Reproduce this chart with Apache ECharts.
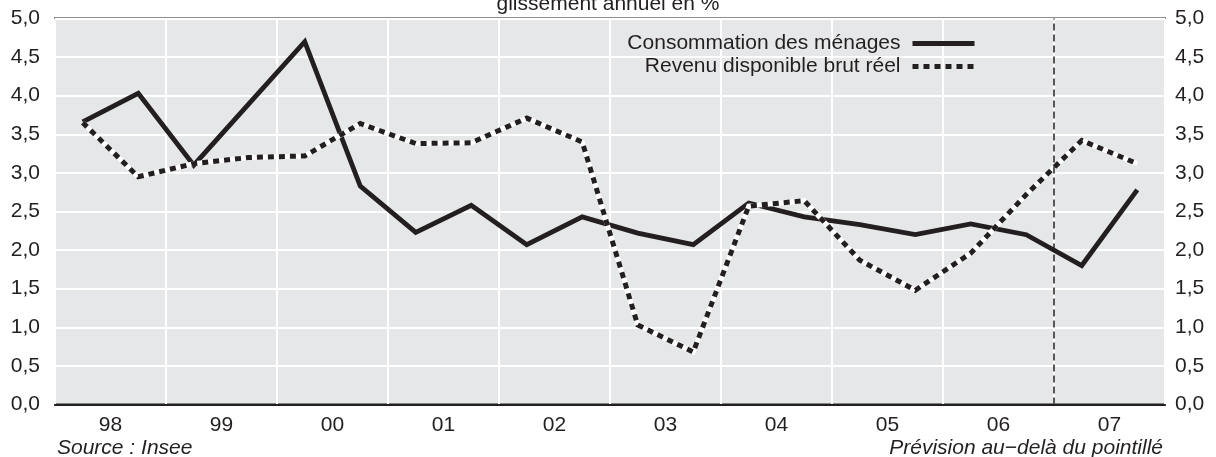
<!DOCTYPE html>
<html>
<head>
<meta charset="utf-8">
<script src="https://cdn.jsdelivr.net/npm/echarts@6/dist/echarts.min.js"></script>
<style>
  html, body { margin: 0; padding: 0; background: #fff; }
  #chart { width: 1216px; height: 457px; }
</style>
</head>
<body>
<div id="chart"></div>
<script>
// semestres 1998-2007, glissement annuel en %
var halfYears = ['98S1', '98S2', '99S1', '99S2', '00S1', '00S2', '01S1', '01S2', '02S1', '02S2',
                 '03S1', '03S2', '04S1', '04S2', '05S1', '05S2', '06S1', '06S2', '07S1', '07S2'];
var years = ['98', '99', '00', '01', '02', '03', '04', '05', '06', '07'];
var consommation = [3.66, 4.03, 3.10, 3.90, 4.70, 2.83, 2.23, 2.58, 2.07, 2.43,
                    2.22, 2.07, 2.61, 2.43, 2.33, 2.20, 2.34, 2.20, 1.80, 2.78];
var revenu = [3.65, 2.95, 3.12, 3.20, 3.22, 3.64, 3.38, 3.39, 3.71, 3.40,
              1.03, 0.68, 2.57, 2.64, 1.87, 1.48, 1.96, 2.72, 3.42, 3.12];
var forecastStart = 2007;   // prévision au-delà du pointillé

var ink = '#231f20';
var font = 'Liberation Sans, Arial, sans-serif';
var fs = 21;
var fmt = function (v) { return v.toFixed(1).replace('.', ','); };

var chart = echarts.init(document.getElementById('chart'));
var legendText = { fontSize: fs, color: ink, fontFamily: font, padding: [0, 7, 0, 0] };
var option = {
    backgroundColor: '#fff',
    animation: false,
    textStyle: { fontFamily: font, color: ink },
    grid: {
        left: 55, right: 51, top: 18.5, bottom: 52.5,
        show: true,
        backgroundColor: '#e6e7e8',
        borderColor: ink,
        borderWidth: 2
    },
    legend: [
        {
            data: ['Consommation des ménages'],
            right: 234, top: 28,
            align: 'right',
            itemWidth: 62, itemHeight: 14,
            itemStyle: { opacity: 0 },
            lineStyle: { width: 5 },
            textStyle: legendText
        },
        {
            data: ['Revenu disponible brut réel'],
            right: 234, top: 51,
            align: 'right',
            itemWidth: 62, itemHeight: 14,
            itemStyle: { opacity: 0 },
            lineStyle: { width: 5, type: [6, 5] },
            textStyle: legendText
        }
    ],
    xAxis: [
        {
            type: 'category',
            data: halfYears,
            boundaryGap: true,
            show: false
        },
        {
            type: 'category',
            data: years,
            boundaryGap: true,
            position: 'bottom',
            axisLine: { show: true, lineStyle: { color: ink, width: 2 } },
            axisTick: { show: false },
            axisLabel: { fontSize: fs, color: ink, margin: 10, fontFamily: font },
            splitLine: { show: true, lineStyle: { color: '#fff', width: 2 } }
        },
        {
            type: 'value',
            min: 1998, max: 2008,
            show: false
        }
    ],
    yAxis: [
        {
            type: 'value',
            min: 0, max: 5, interval: 0.5,
            axisLine: { show: false },
            axisTick: { show: false },
            axisLabel: { fontSize: fs, color: ink, margin: 15, formatter: fmt, fontFamily: font },
            splitLine: { show: true, lineStyle: { color: '#fff', width: 2 } }
        },
        {
            type: 'value',
            position: 'right',
            min: 0, max: 5, interval: 0.5,
            axisLine: { show: false },
            axisTick: { show: false },
            axisLabel: { fontSize: fs, color: ink, margin: 10, formatter: fmt, fontFamily: font },
            splitLine: { show: false }
        }
    ],
    series: [
        {
            name: 'Consommation des ménages',
            type: 'line',
            xAxisIndex: 0,
            data: consommation,
            symbol: 'none',
            lineStyle: { color: ink, width: 4.8, join: 'miter', cap: 'butt' },
            itemStyle: { color: ink },
            z: 3
        },
        {
            name: 'revenu_fond',
            type: 'line',
            xAxisIndex: 0,
            data: revenu,
            symbol: 'none',
            lineStyle: { color: '#fff', width: 5, join: 'miter' },
            silent: true,
            z: 4
        },
        {
            name: 'Revenu disponible brut réel',
            type: 'line',
            xAxisIndex: 0,
            data: revenu,
            symbol: 'none',
            lineStyle: { color: ink, width: 5, type: [6, 5], cap: 'butt', join: 'miter' },
            itemStyle: { color: ink },
            z: 5
        },
        {
            name: 'prevision',
            type: 'line',
            xAxisIndex: 2,
            data: [],
            markLine: {
                silent: true,
                symbol: 'none',
                label: { show: false },
                lineStyle: { color: ink, width: 1.5, type: [7, 4] },
                data: [{ xAxis: forecastStart }]
            },
            z: 2
        }
    ],
    graphic: [
        {
            type: 'text', left: 'center', top: -6,
            style: { text: 'glissement annuel en %', fontSize: fs, fill: ink, fontFamily: font }
        },
        {
            type: 'text', left: 57, top: 438,
            style: { text: 'Source : Insee', fontSize: fs, fontStyle: 'italic', fill: ink, fontFamily: font }
        },
        {
            type: 'text', right: 53, top: 438,
            style: { text: 'Prévision au−delà du pointillé', fontSize: fs, fontStyle: 'italic', fill: ink, fontFamily: font }
        }
    ]
};
chart.setOption(option);
</script>
</body>
</html>
